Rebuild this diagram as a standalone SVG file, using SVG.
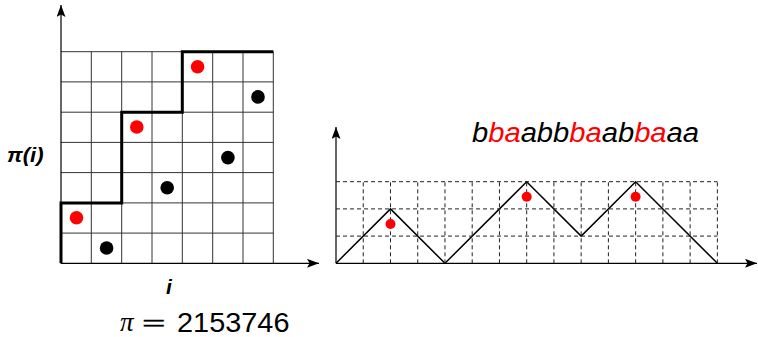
<svg xmlns="http://www.w3.org/2000/svg" width="758" height="337" viewBox="0 0 758 337">
<style>
.grid{stroke:#333;stroke-width:1;fill:none}
.dash{stroke:#222;stroke-width:1;stroke-dasharray:4 3;fill:none}
.axis{stroke:#000;stroke-width:1.2;fill:none}
.red{fill:#ff0000}
.blk{fill:#000}
.lbl{font-family:"Liberation Sans",Arial,sans-serif;font-weight:bold;font-style:italic;fill:#000}
</style>
<defs>
<marker id="arr" markerUnits="userSpaceOnUse" markerWidth="14" markerHeight="10" refX="12" refY="4.5" orient="auto">
<path d="M0,0 L12,4.5 L0,9 L2.5,4.5 Z" fill="#000"/>
</marker>
</defs>
<rect width="758" height="337" fill="#fff"/>

<g id="left-grid" class="grid">
<path d="M91.3,51.7V263.3M121.7,51.7V263.3M152,51.7V263.3M182.3,51.7V263.3M212.7,51.7V263.3M243,51.7V263.3M273.3,51.7V263.3"/>
<path d="M61,51.7H273.3M61,81.9H273.3M61,112.2H273.3M61,142.4H273.3M61,172.6H273.3M61,202.9H273.3M61,233.1H273.3"/>
</g>

<g id="connectors">
<path id="left-y-axis" class="axis" d="M61,263.3V5" marker-end="url(#arr)"/>
<path id="left-x-axis" class="axis" d="M61,263.3H319" marker-end="url(#arr)"/>
<path id="staircase" d="M61,263.3V202.9H121.7V112.2H182.3V51.7H273.3" fill="none" stroke="#000" stroke-width="3"/>
<path id="right-y-axis" class="axis" d="M336,263.3V127" marker-end="url(#arr)"/>
<path id="right-x-axis" class="axis" d="M336,263.3H757" marker-end="url(#arr)"/>
<path id="dyck-path" d="M336,263.3L390.48,208.9L444.96,263.3L526.68,181.7L581.16,236.1L635.64,181.7L717.36,263.3" fill="none" stroke="#000" stroke-width="1.5"/>
</g>

<g id="right-grid" class="dash">
<path d="M363.24,263.3V181.7M390.48,263.3V181.7M417.72,263.3V181.7M444.96,263.3V181.7M472.2,263.3V181.7M499.44,263.3V181.7M526.68,263.3V181.7M553.92,263.3V181.7M581.16,263.3V181.7M608.4,263.3V181.7M635.64,263.3V181.7M662.88,263.3V181.7M690.12,263.3V181.7M717.36,263.3V181.7"/>
<path d="M336,236.1H717.36M336,208.9H717.36M336,181.7H717.36"/>
</g>

<g id="left-dots">
<circle class="red" cx="76.5" cy="217.8" r="6.8"/>
<circle class="blk" cx="106.6" cy="248" r="6.8"/>
<circle class="red" cx="136.8" cy="127" r="6.8"/>
<circle class="blk" cx="167.2" cy="187.7" r="6.8"/>
<circle class="red" cx="197.6" cy="66.8" r="6.8"/>
<circle class="blk" cx="227.9" cy="157.6" r="6.8"/>
<circle class="blk" cx="258" cy="96.9" r="6.8"/>
</g>

<g id="right-dots">
<circle class="red" cx="390.5" cy="224" r="5"/>
<circle class="red" cx="526.7" cy="196.7" r="5"/>
<circle class="red" cx="635.6" cy="196.7" r="5"/>
</g>

<g id="label-pi-i">
<text class="lbl" x="0" y="0" font-size="21" transform="translate(7,162) scale(1.05,1)">π(i)</text>
</g>
<g id="label-i">
<text class="lbl" x="166" y="294" font-size="21">i</text>
</g>

<g id="word">
<text x="0" y="0" font-family="'Liberation Sans',Arial,sans-serif" font-style="italic" font-size="27" transform="translate(472,142) scale(1.08,1)"><tspan fill="#000">b</tspan><tspan fill="#ff0000">ba</tspan><tspan fill="#000">abb</tspan><tspan fill="#ff0000">ba</tspan><tspan fill="#000">ab</tspan><tspan fill="#ff0000">ba</tspan><tspan fill="#000">aa</tspan></text>
</g>

<g id="formula">
<text x="120" y="331" font-family="'Liberation Serif','Times New Roman',serif" font-style="italic" font-size="27" fill="#000">π</text>
<text x="0" y="0" font-family="'Liberation Serif','Times New Roman',serif" font-size="26" fill="#000" stroke="#000" stroke-width="0.5" transform="translate(142,332) scale(1.6,1)">=</text>
<text x="0" y="0" font-family="'Liberation Sans',Arial,sans-serif" font-size="27" fill="#000" transform="translate(177,332) scale(1.07,1)">2153746</text>
</g>
</svg>
